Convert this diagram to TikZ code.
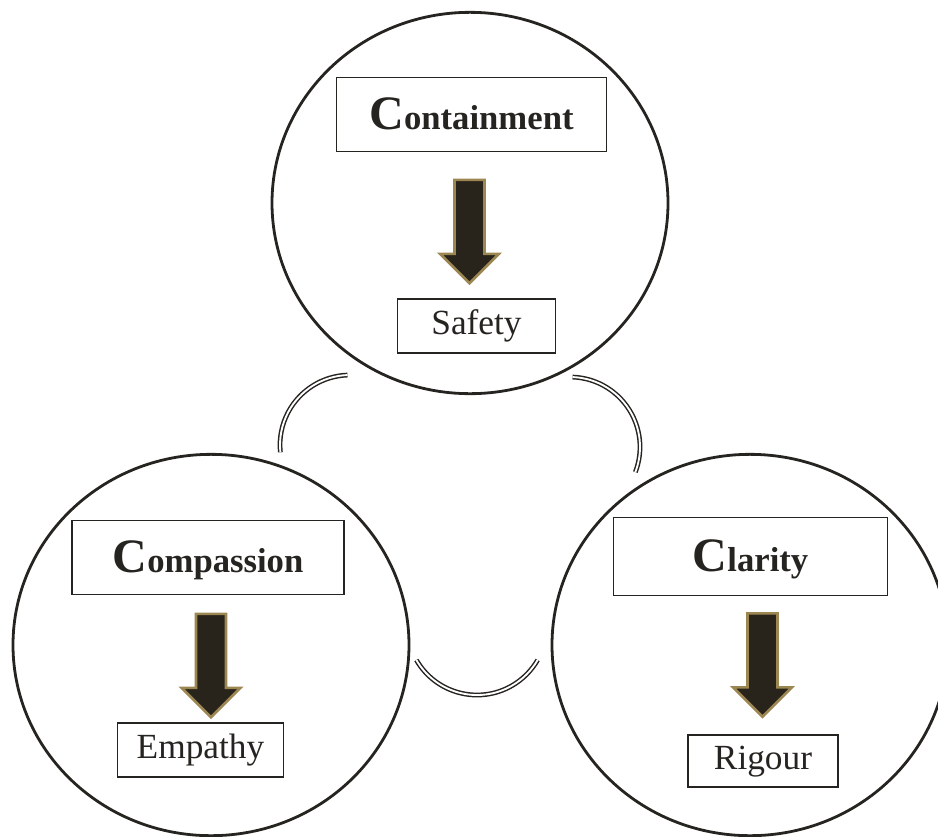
\documentclass[tikz,border=0pt]{standalone}
\usepackage{fontspec}
\setmainfont{Liberation Serif}
\usetikzlibrary{shapes.geometric,shapes.arrows}

\definecolor{ink}{HTML}{262420}
\definecolor{arrowfill}{HTML}{29241B}
\definecolor{arrowrim}{HTML}{9C8753}

\tikzset{
    ring/.style={draw=ink, line width=2.1pt, ellipse, inner sep=0pt,
        minimum width=297pt, minimum height=286pt},
    headbox/.style={draw=ink, line width=0.9pt, inner sep=0pt, text=ink,
        text height=23pt, text depth=0pt,
        font=\fontsize{26}{30}\selectfont\bfseries},
    subbox/.style={draw=ink, line width=0.9pt, inner sep=0pt, text=ink,
        text height=12pt, text depth=0pt,
        font=\fontsize{26.5}{30}\selectfont},
    downarrow/.style={single arrow, rotate=-90, fill=arrowfill,
        draw=arrowrim, line width=2pt, inner xsep=0pt, inner ysep=10.25pt,
        minimum height=77.5pt, minimum width=42pt,
        single arrow head extend=10.75pt},
    link/.style={draw=ink, double=white, line width=1.1pt, double distance=1.4pt},
}
\newcommand{\capC}{{\fontsize{36}{40}\selectfont C}}

\begin{document}
\begin{tikzpicture}[x=0.75pt, y=-0.75pt]
    \useasboundingbox (0,0) rectangle (938,836);
    \clip (0,0) rectangle (938,836);

    % three circles
    \node[ring] (containring) at (470,203) {};
    \node[ring] (compassring) at (211,645) {};
    \node[ring] (clarityring) at (750,645) {};

    % Containment
    \node[headbox, minimum width=203pt, minimum height=56pt] (containment) at (471.5,114.5) {\capC ontainment};
    \node[downarrow] (containarrow) at (469.5,224) {};
    \node[subbox, minimum width=119pt, minimum height=40.5pt] (safety) at (476.5,326) {Safety};

    % Compassion
    \node[headbox, minimum width=204pt, minimum height=56pt] (compassion) at (208,557.5) {\capC ompassion};
    \node[downarrow] (compassarrow) at (211,658) {};
    \node[subbox, minimum width=124pt, minimum height=40.5pt] (empathy) at (200.5,750) {Empathy};

    % Clarity
    \node[headbox, minimum width=205pt, minimum height=58pt] (clarity) at (750.5,556.5) {\capC larity};
    \node[downarrow] (clarityarrow) at (762.5,657.5) {};
    \node[subbox, minimum width=112.5pt, minimum height=39pt] (rigour) at (763,761) {Rigour};

    % links between the circles
    \draw[link] (350,445) ++(268:70) arc[start angle=268, end angle=174, radius=70];
    \draw[link] (570,447) ++(-88:70) arc[start angle=-88, end angle=21, radius=70];
    \draw[link] (477,625) ++(150:70) arc[start angle=150, end angle=30, radius=70];
\end{tikzpicture}
\end{document}
